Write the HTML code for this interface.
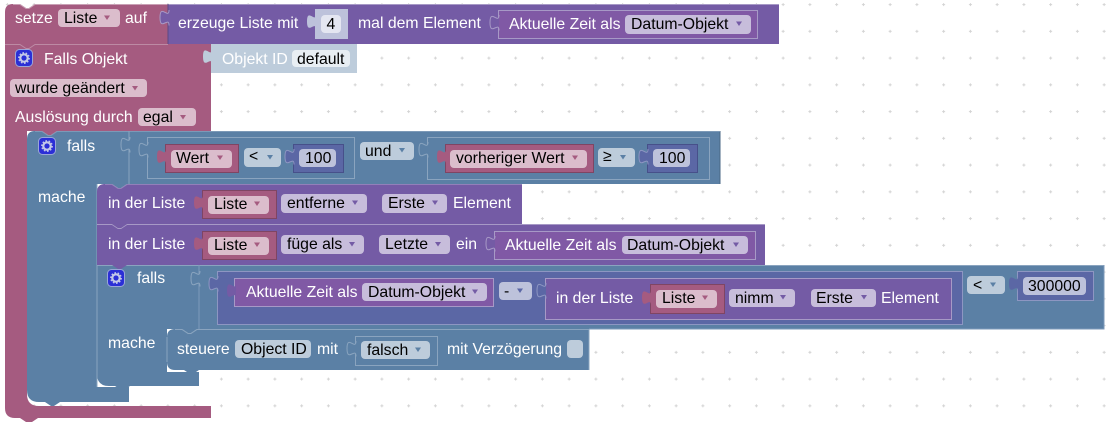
<!DOCTYPE html>
<html><head><meta charset="utf-8">
<style>
html,body{margin:0;padding:0;background:#fff;width:1108px;height:426px;overflow:hidden}
svg{display:block}
text{font-family:"Liberation Sans",sans-serif;font-size:15.8px;fill:#000}
text.w{fill:#fff}
</style></head><body>
<svg width="1108" height="426" viewBox="0 0 1108 426" xmlns="http://www.w3.org/2000/svg">
<defs>
<pattern id="g" x="5.9" y="3.1" width="26.75" height="26.75" patternUnits="userSpaceOnUse">
<path d="M0 1.500H3M1.500 0V3" stroke="#d4d4d4" stroke-width="1" fill="none"/>
</pattern>
<path id="t" d="M1 -1c0 10-9-7-9 7.500s9-2 9 8"/>
<path id="d" d="M-3 -2H3L0 2.500z"/>
<g id="gear">
<rect x="0.500" y="0.500" width="17" height="17" rx="4" fill="#2b2fd6" stroke="#9aa6d8"/>
<circle cx="9" cy="9" r="3.700" fill="none" stroke="#c3c8e8" stroke-width="2.200"/>
<circle cx="9" cy="9" r="5.200" fill="none" stroke="#c3c8e8" stroke-width="1.400" stroke-dasharray="1.600 1.650"/>
</g>
</defs>
<rect width="1108" height="426" fill="#fff"/>
<rect width="1108" height="426" fill="url(#g)"/>

<!-- falls objekt -->
<path d="M5 44H211V131H27V394Q27 406 39 406H211V418H38L32 422H26L20 418H15Q5 418 5 408z" fill="#a55b80"/>
<!-- setze -->
<path d="M5 12Q5 4 13 4H20L26 8H29L35 4H168V44H35L29 48H26L20 44H5z" fill="#a55b80"/>
<path d="M13 4.500H20L26 8.500H29L35 4.500H168" fill="none" stroke="#c9a0b5"/>
<path d="M5 44.500H20L26 48.500H29L35 44.500H168" fill="none" stroke="#bd8aa4"/>
<!-- erzeuge -->
<rect x="168" y="4" width="611" height="40" fill="#745ba5"/>
<path d="M168 4.500H779" stroke="#a799c6" fill="none"/>
<path d="M168 44V4" stroke="#5c4885" fill="none"/>
<use href="#t" x="168" y="11" fill="#745ba5" stroke="#a799c6"/>

<!-- objekt id shadow -->
<rect x="211" y="44" width="146" height="29" fill="#bdccdb"/>
<use href="#t" x="211" y="50" fill="#bdccdb"/>

<!-- falls 1 -->
<path d="M27 139Q27 131 35 131H42L48 135H51L57 131H720V184H97V387H129V402H60L54 406H51L45 402H39Q27 402 27 390z" fill="#5b80a5"/>
<path d="M42 131L48 135H51L57 131z" fill="#a55b80"/>
<path d="M129 131V184M97 184V387" stroke="#8aa4bf" fill="none"/>
<path d="M720 131V184" stroke="#496785" fill="none"/>
<path d="M35 131.500H42L48 135.500H51L57 131.500H720" stroke="#8aa4bf" fill="none" opacity=".7"/>
<use href="#t" x="129" y="138" fill="#5b80a5" stroke="#8aa4bf"/>
<rect x="147.500" y="137.500" width="207" height="41" fill="#5b80a5" stroke="#8aa4bf"/>
<use href="#t" x="147" y="143" fill="#5b80a5" stroke="#8aa4bf"/>
<rect x="427.500" y="137.500" width="282" height="42" fill="#5b80a5" stroke="#8aa4bf"/>
<use href="#t" x="427" y="143" fill="#5b80a5" stroke="#8aa4bf"/>

<rect x="165.500" y="144.500" width="73" height="28" fill="#a55b80" stroke="#7f4563"/>
<use href="#t" x="165" y="150" fill="#a55b80"/>
<rect x="293.500" y="144.500" width="50" height="28" fill="#5b67a5" stroke="#47508a"/>
<use href="#t" x="293" y="150" fill="#5b67a5" stroke="#8d96c2"/>
<rect x="445.500" y="144.500" width="148" height="28" fill="#a55b80" stroke="#7f4563"/>
<use href="#t" x="445" y="150" fill="#a55b80"/>
<rect x="647.500" y="144.500" width="50" height="28" fill="#5b67a5" stroke="#47508a"/>
<use href="#t" x="647" y="150" fill="#5b67a5" stroke="#8d96c2"/>

<!-- in der Liste 1 -->
<path d="M97 192Q97 184 105 184H112L118 188H121L127 184H522V224H97z" fill="#745ba5"/>
<path d="M112 184L118 188H121L127 184z" fill="#5b80a5"/>
<path d="M105 184.500H112L118 188.500H121L127 184.500H522" stroke="#a799c6" fill="none" opacity=".6"/>
<!-- in der Liste 2 -->
<rect x="97" y="224" width="668" height="41" fill="#745ba5"/>
<path d="M97 224.500H112L118 228.500H121L127 224.500H765" stroke="#a799c6" fill="none"/>
<path d="M112 224L118 228H121L127 224z" fill="#745ba5"/>
<rect x="202.500" y="190.500" width="74" height="28" fill="#a55b80" stroke="#7f4563"/>
<use href="#t" x="202" y="196" fill="#a55b80"/>
<rect x="202.500" y="231.500" width="74" height="28" fill="#a55b80" stroke="#7f4563"/>
<use href="#t" x="202" y="237" fill="#a55b80"/>
<rect x="494.500" y="231.500" width="261" height="28" fill="#8059a5" stroke="#a799c6"/>
<use href="#t" x="494" y="237" fill="#745ba5" stroke="#a799c6"/>

<!-- falls 2 -->
<path d="M97 265H1104V329H167V372H199V386H130L124 390H121L115 386H109Q97 386 97 374z" fill="#5b80a5"/>
<path d="M97 265.500H1104" stroke="#8aa4bf" fill="none"/>
<path d="M199 265V329M1104 265V329H589" stroke="#7e9aba" fill="none"/>
<path d="M97 265V380" stroke="#8aa4bf" fill="none"/>
<path d="M112 265L118 269H121L127 265z" fill="#745ba5"/>
<use href="#t" x="199" y="272" fill="#5b80a5" stroke="#8aa4bf"/>
<rect x="217.500" y="271.500" width="745" height="53" fill="#5b67a5" stroke="#8d96c2"/>
<use href="#t" x="217" y="277" fill="#5b67a5" stroke="#8d96c2"/>
<rect x="234.500" y="278.500" width="259" height="28" fill="#8059a5" stroke="#a799c6"/>
<use href="#t" x="235" y="284" fill="#745ba5"/>
<rect x="545.500" y="278.500" width="406" height="41" fill="#745ba5" stroke="#a799c6"/>
<use href="#t" x="545" y="284" fill="#5b67a5" stroke="#8d96c2"/>
<rect x="650.500" y="284.500" width="74" height="29" fill="#a55b80" stroke="#7f4563"/>
<use href="#t" x="650" y="291" fill="#a55b80"/>
<rect x="1017.500" y="271.500" width="76" height="29" fill="#5b67a5" stroke="#8d96c2"/>
<use href="#t" x="1017" y="277" fill="#5b67a5"/>

<!-- steuere -->
<path d="M167 337Q167 329 175 329H182L188 333H191L197 329H589V370H199L193 374H190L184 370H175Q167 370 167 362z" fill="#5b80a5"/>
<path d="M182 329L188 333H191L197 329z" fill="#5b80a5"/>
<path d="M175 329.500H182L188 333.500H191L197 329.500H589M167 337V362" stroke="#8aa4bf" fill="none"/>
<path d="M589 329V370" stroke="#8aa4bf" fill="none"/>
<rect x="355.500" y="336.500" width="82" height="29" fill="#5b80a5" stroke="#8aa4bf"/>
<use href="#t" x="355" y="342" fill="#5b80a5" stroke="#8aa4bf"/>

<!-- erzeuge inner -->
<rect x="315" y="9" width="33" height="30" fill="#bdc2db"/>
<use href="#t" x="315" y="15" fill="#bdc2db"/>
<rect x="498.500" y="10.500" width="259" height="28" fill="#8059a5" stroke="#a799c6"/>
<use href="#t" x="498" y="16" fill="#745ba5" stroke="#a799c6"/>

<!-- fields -->
<g>
<rect x="58" y="9" width="62" height="18" rx="4" fill="#dbbdcc"/>
<rect x="138" y="108" width="58" height="18" rx="4" fill="#dbbdcc"/>
<rect x="10" y="79" width="137" height="18" rx="4" fill="#dbbdcc"/>
<rect x="171" y="150" width="61" height="18" rx="4" fill="#dbbdcc"/>
<rect x="450" y="150" width="137" height="18" rx="4" fill="#dbbdcc"/>
<rect x="208" y="196" width="61" height="18" rx="4" fill="#dbbdcc"/>
<rect x="208" y="237" width="61" height="18" rx="4" fill="#dbbdcc"/>
<rect x="656" y="290" width="61" height="18" rx="4" fill="#dbbdcc"/>
<rect x="625" y="15" width="126" height="19" rx="4" fill="#c7bddb"/>
<rect x="622" y="236" width="126" height="18" rx="4" fill="#c7bddb"/>
<rect x="362" y="283" width="125" height="18" rx="4" fill="#c7bddb"/>
<rect x="281" y="194" width="86" height="19" rx="4" fill="#c7bddb"/>
<rect x="382" y="194" width="65" height="19" rx="4" fill="#c7bddb"/>
<rect x="281" y="235" width="83" height="19" rx="4" fill="#c7bddb"/>
<rect x="379" y="235" width="71" height="19" rx="4" fill="#c7bddb"/>
<rect x="729" y="289" width="66" height="18" rx="4" fill="#c7bddb"/>
<rect x="811" y="289" width="65" height="18" rx="4" fill="#c7bddb"/>
<rect x="244" y="148" width="37" height="19" rx="4" fill="#bdccdb"/>
<rect x="360" y="142" width="54" height="18" rx="4" fill="#bdccdb"/>
<rect x="598" y="148" width="37" height="19" rx="4" fill="#bdccdb"/>
<rect x="967" y="276" width="38" height="18" rx="4" fill="#bdccdb"/>
<rect x="361" y="341" width="69" height="18" rx="4" fill="#bdccdb"/>
<rect x="235" y="340" width="76" height="18" rx="4" fill="#bdccdb"/>
<rect x="567" y="340" width="16" height="18" rx="4" fill="#bdccdb"/>
<rect x="299" y="149" width="37" height="18" rx="4" fill="#bdc2db"/>
<rect x="653" y="149" width="37" height="18" rx="4" fill="#bdc2db"/>
<rect x="499" y="282" width="33" height="18" rx="4" fill="#bdc2db"/>
<rect x="1023" y="277" width="63" height="18" rx="4" fill="#bdc2db"/>
<rect x="321" y="15" width="20" height="18" rx="4" fill="#e4e6f1"/>
<rect x="292" y="50" width="58" height="17" rx="4" fill="#e8eef3"/>
</g>

<!-- dropdown arrows -->
<g fill="#a55b80">
<use href="#d" x="107" y="17.500"/><use href="#d" x="183" y="117"/><use href="#d" x="135" y="88"/>
<use href="#d" x="220" y="157.500"/><use href="#d" x="575" y="157.500"/>
<use href="#d" x="257" y="203.500"/><use href="#d" x="257" y="244.500"/><use href="#d" x="705" y="297.500"/>
</g>
<g fill="#745ba5">
<use href="#d" x="739" y="23.500"/><use href="#d" x="736" y="244.500"/><use href="#d" x="475" y="291.500"/>
<use href="#d" x="355" y="202.500"/><use href="#d" x="435" y="202.500"/>
<use href="#d" x="352" y="244"/><use href="#d" x="438" y="244"/>
<use href="#d" x="783" y="297"/><use href="#d" x="864" y="297"/>
</g>
<g fill="#5b80a5">
<use href="#d" x="270" y="157"/><use href="#d" x="402" y="150"/><use href="#d" x="623" y="157"/>
<use href="#d" x="993" y="284.500"/><use href="#d" x="418" y="349.500"/>
</g>
<use href="#d" x="520" y="290.500" fill="#5b67a5"/>

<!-- gears -->
<use href="#gear" x="15" y="49"/>
<use href="#gear" x="38" y="137"/>
<use href="#gear" x="107" y="269"/>

<!-- labels -->
<text class="w" x="15" y="23">setze</text>
<text x="64" y="23">Liste</text>
<text class="w" x="125" y="23">auf</text>
<text class="w" x="178" y="28">erzeuge Liste mit</text>
<text x="326.500" y="29">4</text>
<text class="w" x="358" y="28">mal dem Element</text>
<text class="w" x="509" y="29">Aktuelle Zeit als</text>
<text x="631" y="29">Datum-Objekt</text>
<text class="w" x="44" y="64">Falls Objekt</text>
<text class="w" x="222" y="64">Objekt ID</text>
<text x="297" y="64">default</text>
<text x="15" y="93">wurde geändert</text>
<text class="w" x="15" y="122">Auslösung durch</text>
<text x="143" y="122">egal</text>
<text class="w" x="67" y="151">falls</text>
<text x="176" y="163">Wert</text>
<text x="249" y="161">&lt;</text>
<text x="305" y="163">100</text>
<text x="365" y="156">und</text>
<text x="456" y="163">vorheriger Wert</text>
<text x="603" y="161">≥</text>
<text x="659" y="163">100</text>
<text class="w" x="38" y="202">mache</text>
<text class="w" x="108" y="208">in der Liste</text>
<text x="214" y="209">Liste</text>
<text x="287" y="208">entferne</text>
<text x="388" y="208">Erste</text>
<text class="w" x="453" y="208">Element</text>
<text class="w" x="108" y="249">in der Liste</text>
<text x="214" y="250">Liste</text>
<text x="287" y="249">füge als</text>
<text x="385" y="249">Letzte</text>
<text class="w" x="456" y="249">ein</text>
<text class="w" x="505" y="250">Aktuelle Zeit als</text>
<text x="627" y="250">Datum-Objekt</text>
<text class="w" x="137" y="283">falls</text>
<text class="w" x="246" y="297">Aktuelle Zeit als</text>
<text x="368" y="297">Datum-Objekt</text>
<text x="504" y="296">-</text>
<text class="w" x="556" y="303">in der Liste</text>
<text x="662" y="303">Liste</text>
<text x="735" y="303">nimm</text>
<text x="816" y="303">Erste</text>
<text class="w" x="881" y="303">Element</text>
<text x="973" y="290">&lt;</text>
<text x="1028" y="291">300000</text>
<text class="w" x="108" y="348">mache</text>
<text class="w" x="177" y="354">steuere</text>
<text x="241" y="354">Object ID</text>
<text class="w" x="317" y="354">mit</text>
<text x="367" y="355">falsch</text>
<text class="w" x="447" y="354">mit Verzögerung</text>
</svg>
</body></html>
